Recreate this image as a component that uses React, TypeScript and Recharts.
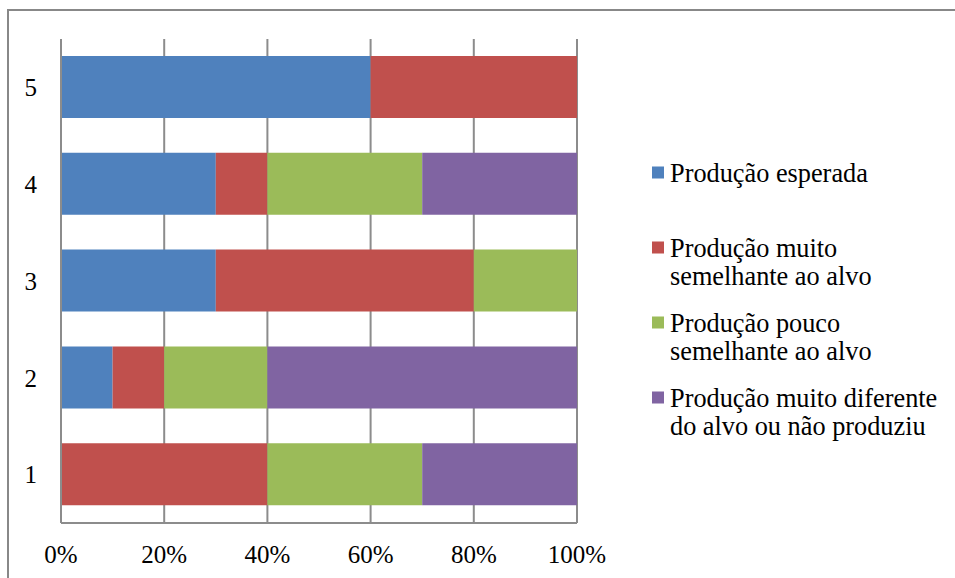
import React from 'react';
import { BarChart, Bar, XAxis, YAxis, CartesianGrid, Legend } from 'recharts';

const categories = ['1', '2', '3', '4', '5'];
const esperada = [0, 10, 30, 30, 60];
const muitoSemelhante = [40, 10, 50, 10, 40];
const poucoSemelhante = [30, 20, 20, 30, 0];
const muitoDiferente = [30, 60, 0, 30, 0];
const xTicks = [0, 20, 40, 60, 80, 100];

const seriesNames = [
  ['Produção esperada'],
  ['Produção muito', 'semelhante ao alvo'],
  ['Produção pouco', 'semelhante ao alvo'],
  ['Produção muito diferente', 'do alvo ou não produziu'],
];
const colors = ['#4F81BD', '#C0504D', '#9BBB59', '#8064A2'];
const keys = ['esperada', 'muitoSem', 'poucoSem', 'diferente'];

const data = categories.map((c, i) => ({
  cat: c,
  esperada: esperada[i],
  muitoSem: muitoSemelhante[i],
  poucoSem: poucoSemelhante[i],
  diferente: muitoDiferente[i],
}));

const FONT = "'Liberation Serif', 'Times New Roman', serif";
const GRID = '#8c8c8c';

const LegendContent = () => (
  <svg width={300} height={290} style={{ display: 'block' }}>
    {seriesNames.map((lines, i) => (
      <g key={i}>
        <rect x={7} y={i * 75 + 8.5} width={12} height={12} fill={colors[i]} />
        {lines.map((l, j) => (
          <text
            key={j}
            x={25}
            y={i * 75 + 14.5 + j * 28.5}
            dy="0.35em"
            fontFamily={FONT}
            fontSize={26.3}
            fill="#000"
          >
            {l}
          </text>
        ))}
      </g>
    ))}
  </svg>
);

export default function App() {
  return (
    <div style={{ position: 'fixed', left: 0, top: 0, width: 955, height: 578, overflow: 'hidden', background: '#fff' }}>
      <div
        style={{
          position: 'absolute',
          left: 7,
          top: 9,
          width: 948,
          height: 569,
          borderLeft: '2px solid #888',
          borderTop: '2px solid #888',
          boxSizing: 'border-box',
        }}
      />
      <div style={{ position: 'absolute', left: 0, top: 0 }}>
        <BarChart
          width={955}
          height={578}
          data={data}
          layout="vertical"
          margin={{ top: 39, right: 78, bottom: 15, left: 21 }}
          barSize={62}
        >
          <CartesianGrid horizontal={false} vertical stroke={GRID} strokeWidth={2} />
          <XAxis
            type="number"
            domain={[0, 100]}
            ticks={xTicks}
            tickFormatter={(v) => `${v}%`}
            axisLine={{ stroke: GRID, strokeWidth: 2 }}
            tickLine={false}
            tickSize={0}
            tickMargin={22}
            height={40}
            tick={{ fill: '#000', fontSize: 25, fontFamily: FONT }}
            interval={0}
          />
          <YAxis
            type="category"
            dataKey="cat"
            reversed
            width={40}
            axisLine={{ stroke: GRID, strokeWidth: 2 }}
            tickLine={false}
            tickSize={0}
            tickMargin={24}
            tick={{ fill: '#000', fontSize: 25, fontFamily: FONT }}
          />
          <Legend
            layout="vertical"
            align="right"
            verticalAlign="top"
            content={<LegendContent />}
            wrapperStyle={{ position: 'absolute', left: 645, top: 157.5, width: 300, height: 290 }}
          />
          {keys.map((k, i) => (
            <Bar key={k} dataKey={k} stackId="a" fill={colors[i]} isAnimationActive={false} />
          ))}
        </BarChart>
      </div>
    </div>
  );
}
